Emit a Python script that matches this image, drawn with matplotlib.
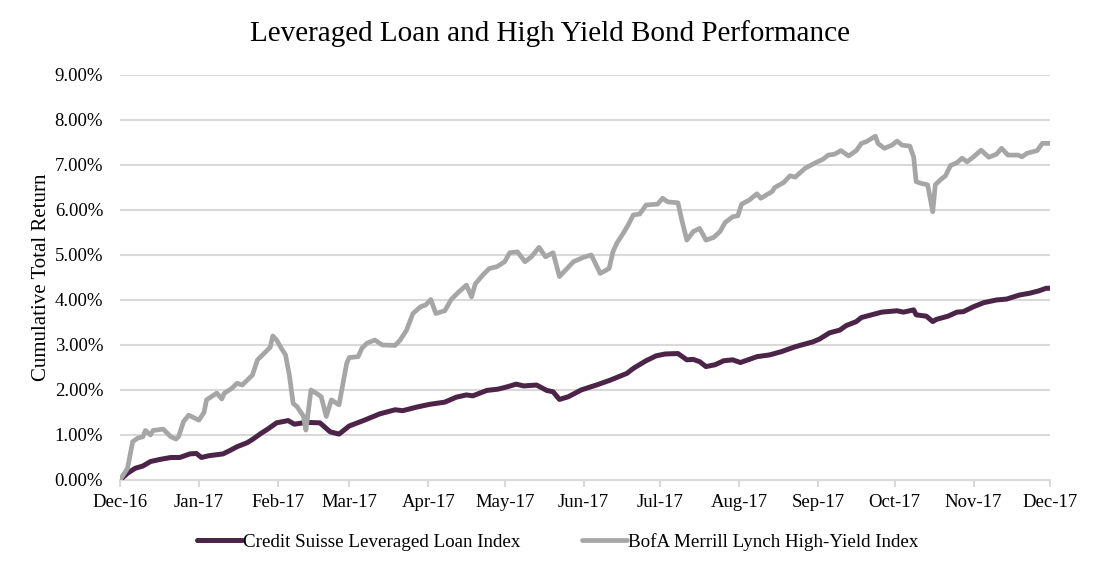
import pandas as pd
import numpy as np
import matplotlib
matplotlib.use('Agg')
import matplotlib.pyplot as plt
import matplotlib.dates as mdates
from matplotlib.ticker import FuncFormatter

plt.rcParams['font.family'] = ['Liberation Serif', 'DejaVu Serif']

start = pd.Timestamp('2016-12-01')

#---Credit Suisse Leveraged Loan Index (days since 2016-12-01, cumulative return %)
loan_days = [0, 3, 6, 9, 12, 16, 20, 23.5, 27.5, 30, 32, 35, 40.5, 43, 46, 50, 52, 55.5, 58,
             61.5, 66, 68.5, 73, 78.5, 82.5, 86, 90, 96, 102, 108, 111, 116.5, 121.5, 127.5,
             132, 136, 138.5, 144, 148.5, 152, 155.5, 158.5, 163.5, 167.5, 170, 172.5, 176,
             181, 187, 192.5, 199, 201.5, 206.5, 210.5, 214, 219, 222.5, 225, 227.5, 230,
             233.5, 237, 240.5, 243.5, 247, 250, 255, 259.5, 265, 267.5, 272, 274.5, 278.5,
             282.5, 285, 289, 291, 295, 299, 305, 307.5, 311.5, 312.5, 316.5, 319, 320.5,
             325, 328.5, 331, 335, 339, 344, 348, 353, 357, 360.5, 363.5, 365]
loan_vals = [0.00, 0.15, 0.26, 0.31, 0.41, 0.46, 0.50, 0.50, 0.58, 0.59, 0.50, 0.54, 0.58, 0.65,
             0.74, 0.83, 0.90, 1.04, 1.13, 1.27, 1.32, 1.24, 1.28, 1.27, 1.07, 1.02, 1.20, 1.33,
             1.47, 1.56, 1.54, 1.62, 1.68, 1.73, 1.84, 1.89, 1.87, 1.99, 2.02, 2.07, 2.13, 2.09,
             2.11, 1.99, 1.96, 1.79, 1.85, 2.00, 2.11, 2.22, 2.37, 2.48, 2.65, 2.76, 2.80, 2.81,
             2.67, 2.68, 2.63, 2.52, 2.56, 2.65, 2.67, 2.61, 2.68, 2.74, 2.78, 2.85, 2.96, 3.00,
             3.07, 3.13, 3.27, 3.33, 3.43, 3.52, 3.61, 3.67, 3.73, 3.76, 3.73, 3.78, 3.67, 3.64,
             3.52, 3.57, 3.64, 3.73, 3.74, 3.85, 3.94, 4.00, 4.02, 4.11, 4.15, 4.20, 4.26, 4.26]

#---BofA Merrill Lynch High-Yield Index
hy_days = [0, 3, 5, 7, 9, 10, 12, 13, 17, 20, 22, 23, 25, 27, 31, 33, 34, 38, 40, 41, 44, 46,
           48, 52, 54, 56, 59, 60, 61.5, 63, 65, 66.5, 68, 69.5, 72, 73, 75, 77, 79, 81, 83,
           86, 89, 90, 93.5, 95, 97, 100, 103, 108, 110, 112.5, 115, 118, 120, 122, 124,
           127.5, 130, 133, 136, 138, 139.5, 142.5, 145, 148, 151, 153, 156, 159, 161.5,
           164.5, 167, 170, 172.5, 175, 178, 182, 185, 188.5, 192, 193.5, 195, 197.5, 199.5,
           201.5, 204, 206.5, 211, 213, 215, 219, 220.5, 222.5, 225, 227.5, 230, 233, 235.5,
           237.5, 240.5, 242.5, 244, 247, 250, 251.5, 256, 257, 260.5, 263, 265, 269, 273,
           276, 278, 280.5, 283, 286, 289, 291, 293, 296.5, 297.5, 300, 303, 305, 307, 310,
           311.5, 312.5, 314.5, 317, 319, 320, 322, 324, 326, 328.5, 330.5, 332.5, 335, 338,
           341, 344, 346, 348.5, 352.5, 354, 356, 360, 362, 365]
hy_vals = [0.00, 0.26, 0.85, 0.93, 0.96, 1.10, 1.00, 1.10, 1.13, 0.96, 0.91, 0.96, 1.30, 1.44,
           1.33, 1.50, 1.78, 1.93, 1.80, 1.93, 2.04, 2.15, 2.11, 2.33, 2.67, 2.78, 2.95, 3.20,
           3.11, 2.96, 2.78, 2.33, 1.70, 1.63, 1.42, 1.11, 2.00, 1.93, 1.85, 1.41, 1.78, 1.67,
           2.59, 2.72, 2.74, 2.93, 3.04, 3.11, 3.00, 2.99, 3.11, 3.33, 3.70, 3.85, 3.89, 4.01,
           3.70, 3.76, 4.01, 4.18, 4.33, 4.07, 4.36, 4.56, 4.70, 4.74, 4.85, 5.05, 5.07, 4.85,
           4.96, 5.17, 4.96, 5.05, 4.52, 4.67, 4.85, 4.95, 5.00, 4.59, 4.70, 5.07, 5.26, 5.48,
           5.67, 5.89, 5.91, 6.11, 6.13, 6.26, 6.18, 6.16, 5.78, 5.33, 5.52, 5.59, 5.33, 5.39,
           5.52, 5.72, 5.85, 5.87, 6.13, 6.22, 6.36, 6.26, 6.41, 6.50, 6.61, 6.76, 6.73, 6.93,
           7.05, 7.13, 7.22, 7.24, 7.32, 7.20, 7.32, 7.48, 7.52, 7.64, 7.48, 7.37, 7.44, 7.53,
           7.44, 7.42, 7.18, 6.63, 6.59, 6.56, 5.96, 6.56, 6.67, 6.76, 6.99, 7.05, 7.15, 7.07,
           7.18, 7.33, 7.17, 7.24, 7.37, 7.22, 7.22, 7.18, 7.26, 7.32, 7.48, 7.48]

loan_dates = start + pd.to_timedelta(loan_days, unit='D')
hy_dates = start + pd.to_timedelta(hy_days, unit='D')

#---Plot
fig = plt.figure(figsize=(11, 5.71), dpi=100)
ax = fig.add_axes([0.109, 0.1594, 0.8455, 0.7093])

grid_c = '#D9D9D9'
ax.plot(loan_dates, np.array(loan_vals) / 100, color='#4B2448', lw=3.6,
        solid_capstyle='round', label='Credit Suisse Leveraged Loan Index', zorder=3)
ax.plot(hy_dates, np.array(hy_vals) / 100, color='#A6A6A6', lw=3.4,
        solid_capstyle='round', label='BofA Merrill Lynch High-Yield Index', zorder=3)

ax.set_ylim(0, 0.09)
ax.set_yticks(np.arange(0, 0.0901, 0.01))
ax.yaxis.set_major_formatter(FuncFormatter(lambda v, p: '{:.2%}'.format(v)))
ax.set_xlim(start, pd.Timestamp('2017-12-01'))
ax.xaxis.set_major_locator(mdates.MonthLocator())
ax.xaxis.set_major_formatter(mdates.DateFormatter('%b-%y'))

ax.grid(axis='y', color=grid_c, lw=1.5, zorder=0)
for s in ['top', 'right', 'left']:
    ax.spines[s].set_visible(False)
ax.spines['bottom'].set_color(grid_c)
ax.spines['bottom'].set_linewidth(1.5)
ax.tick_params(axis='y', length=0, labelsize=13.5, pad=12)
ax.tick_params(axis='x', length=5, width=1.5, color=grid_c, labelsize=13.5, pad=5)

ax.set_ylabel('Cumulative Total Return', fontsize=15)
ax.yaxis.set_label_coords(-0.0745, 0.5)
fig.text(0.5, 0.942, 'Leveraged Loan and High Yield Bond Performance', fontsize=21,
         ha='center', va='center')

fig.legend(*ax.get_legend_handles_labels(), loc='center', bbox_to_anchor=(0.507, 0.051),
           ncol=2, frameon=False, fontsize=13.7, handlelength=2.4, handletextpad=0.05,
           columnspacing=3.2)

fig.savefig('out.png', dpi=100)
